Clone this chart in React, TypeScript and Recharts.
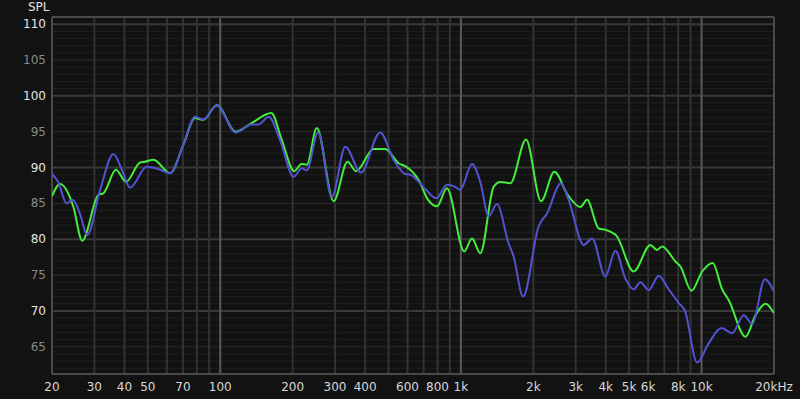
import { LineChart, Line, XAxis, YAxis, ReferenceLine } from 'recharts';

// frequency response
const greenFreq = [20, 21.6, 24.5, 26.7, 31.2, 32.7, 36.9, 40.6, 46.5, 48.7, 52.8, 61.9, 70.3, 78.6, 85.1, 96.8, 116, 135, 163, 180, 203, 218, 229, 252, 296, 338, 367, 434, 485, 551, 587, 667, 727, 796, 875, 1033, 1112, 1204, 1368, 1458, 1605, 1865, 2153, 2446, 2777, 3137, 3345, 3738, 3985, 4428, 5226, 6131, 6537, 6857, 7789, 8171, 9079, 10058, 11132, 12180, 12976, 15222, 16754, 18438, 20000];
const greenSpl = [86.0, 87.7, 84.6, 79.8, 86.2, 86.4, 89.7, 88.0, 90.7, 90.8, 91.1, 89.2, 93.2, 96.9, 96.65, 98.7, 95.0, 96.2, 97.6, 93.9, 89.5, 90.5, 90.4, 95.5, 85.3, 90.8, 89.5, 92.6, 92.6, 90.6, 90.2, 88.3, 85.6, 84.6, 87.1, 78.3, 80.1, 78.05, 87.3, 88.0, 87.8, 93.9, 85.3, 89.4, 86.2, 84.5, 85.5, 81.5, 81.3, 80.5, 75.5, 79.2, 78.5, 79.0, 76.9, 76.2, 72.8, 75.5, 76.7, 73.0, 71.5, 66.4, 69.4, 71.0, 69.7];

const blueFreq = [20, 21.2, 23.0, 24.4, 26.1, 28.0, 31.7, 36.0, 39.0, 42.2, 49.5, 56.2, 61.9, 70.3, 78.6, 85.1, 96.8, 116, 135, 144, 159, 177, 202, 218, 229, 255, 291, 331, 384, 462, 525, 587, 616, 711, 790, 875, 948, 994, 1112, 1204, 1304, 1413, 1579, 1656, 1812, 2104, 2280, 2607, 2804, 3238, 3509, 3985, 4386, 4827, 5226, 5572, 6032, 6638, 7305, 8039, 8514, 9588, 10714, 12098, 13404, 14976, 16234, 18314, 20000];
const blueSpl = [89.1, 88.0, 85.0, 85.5, 83.6, 80.6, 86.9, 91.9, 89.7, 87.2, 90.1, 89.7, 89.2, 93.2, 97.1, 96.7, 98.7, 94.9, 96.0, 96.0, 97.1, 93.9, 88.7, 89.9, 89.6, 94.9, 85.9, 92.9, 89.3, 94.9, 91.1, 89.1, 89.0, 87.0, 85.7, 87.6, 87.3, 86.9, 90.5, 88.0, 83.2, 84.9, 79.4, 77.6, 72.0, 81.8, 83.6, 87.8, 85.5, 79.2, 80.1, 74.8, 78.4, 74.5, 73.0, 74.0, 72.9, 74.9, 73.0, 71.1, 70.1, 62.8, 65.5, 67.6, 66.9, 69.4, 68.2, 74.4, 72.7];

const xTicks = [20, 30, 40, 50, 70, 100, 200, 300, 400, 600, 800, 1000, 2000, 3000, 4000, 5000, 6000, 8000, 10000, 20000];
const xLabels = ['20', '30', '40', '50', '70', '100', '200', '300', '400', '600', '800', '1k', '2k', '3k', '4k', '5k', '6k', '8k', '10k', '20kHz'];
const yTicks = [65, 70, 75, 80, 85, 90, 95, 100, 105, 110];

const gridFreqs: number[] = [];
[10, 100, 1000].forEach((d) => {
  for (let m = 2; m <= 10; m++) {
    const f = m * d;
    if (f > 20 && f < 20000) gridFreqs.push(f);
  }
});
const gridDb: number[] = [];
for (let v = 62; v <= 111; v++) gridDb.push(v);

const greenData = greenFreq.map((f, i) => ({ f, spl: greenSpl[i] }));
const blueData = blueFreq.map((f, i) => ({ f, spl: blueSpl[i] }));

const FONT = '"DejaVu Sans", sans-serif';

const XTick = ({ x, payload }: any) => {
  const i = xTicks.indexOf(payload.value);
  return (
    <text x={x} y={391} textAnchor="middle" fill="#d8d8d8" fontSize={12} fontFamily={FONT}>
      {xLabels[i]}
    </text>
  );
};

const YTick = ({ y, payload }: any) => (
  <text x={46} y={y + 4} textAnchor="end" fill={payload.value % 10 === 0 ? '#e4e4e4' : '#8a8a8a'} fontSize={12} fontFamily={FONT}>
    {payload.value}
  </text>
);

export default function App() {
  return (
    <div style={{ position: 'fixed', left: 0, top: 0, width: 800, height: 399, background: '#121212' }}>
      <div style={{ position: 'absolute', left: 28, top: 0, color: '#e4e4e4', fontSize: 12, fontFamily: FONT }}>SPL</div>
      <LineChart width={800} height={399} margin={{ top: 17, right: 26, bottom: 0, left: 0 }}>
        <XAxis
          dataKey="f"
          type="number"
          scale="log"
          domain={[20, 20000]}
          ticks={xTicks}
          interval={0}
          tick={<XTick />}
          tickLine={false}
          axisLine={false}
          height={25}
          allowDataOverflow
        />
        <YAxis
          type="number"
          domain={[61.2, 111]}
          ticks={yTicks}
          interval={0}
          tick={<YTick />}
          tickLine={false}
          axisLine={false}
          width={52}
          allowDataOverflow
        />
        {gridDb.map((v) => (
          <ReferenceLine
            key={'h' + v}
            y={v}
            stroke={v % 10 === 0 ? '#3a3a3a' : v % 5 === 0 ? '#2e2e2e' : '#1f1f1f'}
            strokeWidth={v % 10 === 0 ? 2 : 1}
          />
        ))}
        {gridFreqs.map((f) => (
          <ReferenceLine
            key={'v' + f}
            x={f}
            stroke={f === 100 || f === 1000 || f === 10000 ? '#5a5a5a' : '#333333'}
            strokeWidth={2}
          />
        ))}
        <ReferenceLine x={20} stroke="#4a4a4a" strokeWidth={2} />
        <ReferenceLine x={20000} stroke="#4a4a4a" strokeWidth={2} />
        <ReferenceLine y={111} stroke="#4a4a4a" strokeWidth={2} />
        <ReferenceLine y={61.2} stroke="#4a4a4a" strokeWidth={2} />
        <Line data={greenData} dataKey="spl" type="monotone" stroke="#44ee3c" strokeWidth={2} dot={false} isAnimationActive={false} />
        <Line data={blueData} dataKey="spl" type="monotone" stroke="#5252d2" strokeWidth={2} dot={false} isAnimationActive={false} />
      </LineChart>
    </div>
  );
}
